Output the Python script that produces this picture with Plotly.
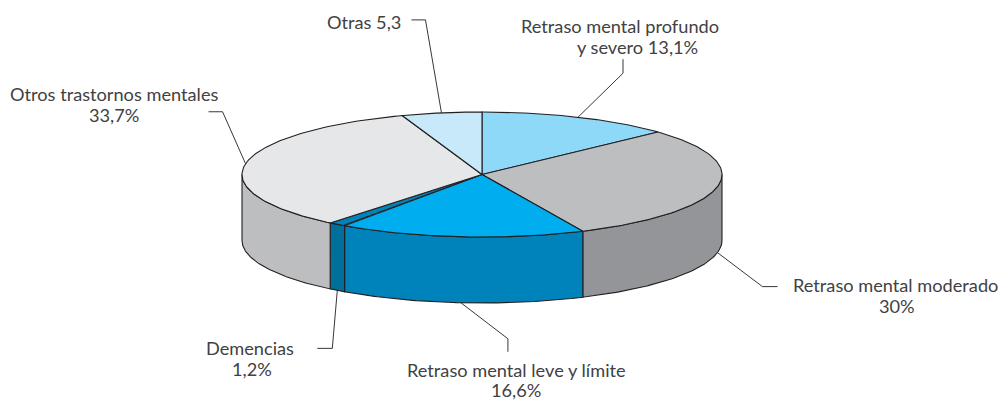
import numpy as np
import plotly.graph_objects as go

# Shares of each diagnostic group, clockwise from twelve o'clock
categories = [
    "Retraso mental profundo y severo",
    "Retraso mental moderado",
    "Retraso mental leve y límite",
    "Demencias",
    "Otros trastornos mentales",
    "Otras",
]
values = [13.1, 30, 16.6, 1.2, 33.7, 5.3]
top_colors = ["#8ED8F8", "#BCBEC0", "#00AEEF", "#0083BA", "#E6E7E8", "#C7E9FA"]
side_colors = ["#6DCFF6", "#939598", "#0083BA", "#006F9B", "#BCBEC0", "#A0D8F0"]

# Disc geometry on a pixel-sized plotting area
CX, CY, RX, RY, DEPTH = 482, 174.5, 240, 62.5, 66
INK = "#231F20"
TEXT = "#414143"

# Leader elbows, relative to the middle of the slice's rim; rim "side" means the lower edge
leader_offsets = [
    ("top", [(45, -44), (45, -58)]),
    ("side", [(45, 34), (60, 34)]),
    ("side", [(47, 36), (47, 49)]),
    ("side", [(-5, 58), (-20, 58)]),
    ("top", [(-23, -52), (-37, -52)]),
    ("top", [(-16, -93), (-30, -93)]),
]

label_lines = [
    ("Retraso mental profundo", 620, 26),
    ("y severo 13,1%", 637, 47),
    ("Retraso mental moderado", 895, 285),
    ("30%", 897, 306),
    ("Retraso mental leve y límite", 516, 369.5),
    ("16,6%", 516, 390),
    ("Demencias", 250, 348),
    ("1,2%", 252, 369),
    ("Otros trastornos mentales", 114, 94),
    ("33,7%", 114, 115),
    ("Otras 5,3", 363.5, 22),
]


def rim(theta, drop=0.0):
    """Points on the ellipse for angles measured clockwise from the top."""
    return CX + RX * np.sin(theta), CY + drop - RY * np.cos(theta)


# The published shares add up to 99.9, so the last slice closes the disc
edges = np.concatenate([[0.0], np.cumsum(values)]) / 100.0 * 2 * np.pi
edges[-1] = 2 * np.pi

fig = go.Figure()


def add_poly(xs, ys, fill):
    fig.add_trace(go.Scatter(
        x=xs, y=ys, mode="lines", fill="toself", fillcolor=fill,
        line=dict(color=INK, width=1.1), hoverinfo="skip", showlegend=False,
    ))


# Side wall: only the part of each slice facing the viewer
for start, end, color in zip(edges[:-1], edges[1:], side_colors):
    lo, hi = max(start, np.pi / 2), min(end, 3 * np.pi / 2)
    if lo >= hi:
        continue
    t = np.linspace(lo, hi, 80)
    x_up, y_up = rim(t)
    x_low, y_low = rim(t[::-1], DEPTH)
    add_poly(np.r_[x_up, x_low, x_up[0]], np.r_[y_up, y_low, y_up[0]], color)

# Top face wedges
for start, end, color in zip(edges[:-1], edges[1:], top_colors):
    t = np.linspace(start, end, 120)
    x_arc, y_arc = rim(t)
    add_poly(np.r_[CX, x_arc, CX], np.r_[CY, y_arc, CY], color)

# Leader lines start at the middle of each slice's rim
for start, end, (where, bends) in zip(edges[:-1], edges[1:], leader_offsets):
    mid = (start + end) / 2
    ax, ay = rim(mid, DEPTH if where == "side" else 0.0)
    fig.add_trace(go.Scatter(
        x=[ax] + [ax + dx for dx, _ in bends],
        y=[ay] + [ay + dy for _, dy in bends],
        mode="lines", line=dict(color=INK, width=0.9),
        hoverinfo="skip", showlegend=False,
    ))

for text, x, y in label_lines:
    fig.add_annotation(
        x=x, y=y, text=text, showarrow=False, xanchor="center", yanchor="middle",
        font=dict(family="Lato", size=18.2, color=TEXT),
    )

fig.update_layout(
    width=1000, height=401, margin=dict(l=0, r=0, t=0, b=0),
    paper_bgcolor="white", plot_bgcolor="white",
    xaxis=dict(range=[0, 1000], visible=False, fixedrange=True),
    yaxis=dict(range=[401, 0], visible=False, fixedrange=True),
)

fig.write_html("out.html", config={"displayModeBar": False})
